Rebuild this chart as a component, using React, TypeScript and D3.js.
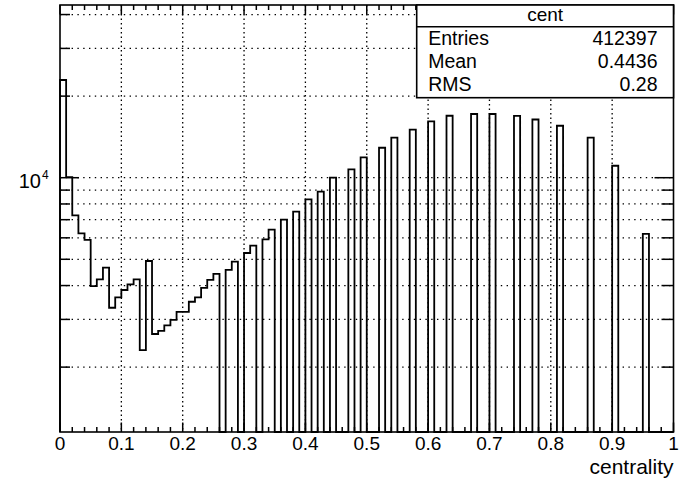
import React from "react";
import * as d3 from "d3";

// Histogram "cent": 100 bins over [0, 1], counts per bin
const binCounts = [
  22940, 10050, 7260, 6235, 5900, 3983, 4217, 4655, 3313, 3620,
  3851, 4043, 4217, 2312, 4928, 2650, 2720, 2850, 2986, 3200,
  3200, 3486, 3620, 3920, 4200, 4420, 0, 4566, 4898, 0,
  5275, 5620, 0, 5920, 6430, 0, 7000, 0, 7500, 0,
  8325, 0, 8878, 0, 10000, 0, 0, 10740, 0, 11890,
  0, 0, 12900, 0, 14050, 0, 0, 15050, 0, 0,
  16140, 0, 0, 16930, 0, 0, 0, 17180, 0, 0,
  17180, 0, 0, 0, 16900, 0, 0, 16400, 0, 0,
  0, 15550, 0, 0, 0, 0, 14050, 0, 0, 0,
  11070, 0, 0, 0, 0, 6200, 0, 0, 0, 0,
];
const xMin = 0;
const xMax = 1;

const xMajorTicks = [0, 0.1, 0.2, 0.3, 0.4, 0.5, 0.6, 0.7, 0.8, 0.9, 1];
const xTickLabels = ["0", "0.1", "0.2", "0.3", "0.4", "0.5", "0.6", "0.7", "0.8", "0.9", "1"];
const yDomain = [1152.5, 43380];
const yMinorTicks = [2000, 3000, 4000, 5000, 6000, 7000, 8000, 9000, 20000, 30000, 40000];
const yMajorTicks = [10000];

const statsTitle = "cent";
const statsNames = ["Entries", "Mean", "RMS"];
const statsValues = ["412397", "0.4436", "0.28"];
const xTitle = "centrality";

const W = 688;
const H = 490;
const FL = 60;
const FR = 673.5;
const FT = 5;
const FB = 432;
const FONT = "'Liberation Sans', Arial, Helvetica, sans-serif";

export default function App() {
  const x = d3.scaleLinear().domain([xMin, xMax]).range([FL, FR]);
  const y = d3.scaleLog().domain(yDomain).range([FB, FT]);
  const nb = binCounts.length;
  const bw = (xMax - xMin) / nb;

  // outline of the histogram; empty bins sit on the frame bottom
  const pts: [number, number][] = [[x(xMin), FB]];
  binCounts.forEach((v, i) => {
    const yy = v > 0 ? y(v) : FB;
    pts.push([x(xMin + i * bw), yy]);
    pts.push([x(xMin + (i + 1) * bw), yy]);
  });
  pts.push([x(xMax), FB]);
  const histPath = d3.line()(pts) || "";

  const xMinor = d3.range(0, 51).map((k) => xMin + k * 0.02);
  const gridX = xMajorTicks.slice(1, -1);
  const gridY = [...yMinorTicks, ...yMajorTicks];

  const box = { x: 416.7, y: FT, w: FR - 416.7, h: 92.7, title: 21.7 };

  return (
    <svg width={W} height={H} style={{ position: "absolute", left: 0, top: 0, background: "#fff" }}>
      <rect x={0} y={0} width={W} height={H} fill="#fff" />
      {/* grid */}
      <g stroke="#000" strokeWidth={1.3} fill="none">
        {gridX.map((t) => (
          <line key={"gx" + t} x1={x(t)} x2={x(t)} y1={FT} y2={FB} strokeDasharray="1.4 3.1" />
        ))}
        {gridY.map((t) => (
          <line key={"gy" + t} x1={FL} x2={FR} y1={y(t)} y2={y(t)} strokeDasharray="1.4 4.4" />
        ))}
      </g>
      {/* histogram */}
      <path d={histPath} fill="none" stroke="#000" strokeWidth={1.8} strokeLinejoin="miter" />
      {/* frame */}
      <rect x={FL} y={FT} width={FR - FL} height={FB - FT} fill="none" stroke="#000" strokeWidth={1.6} />
      {/* x ticks, bottom and top; y ticks, left and right */}
      <g stroke="#000" strokeWidth={1.5}>
        {xMinor.map((t, i) => {
          const major = i % 5 === 0;
          const len = major ? 9.5 : 5;
          return (
            <g key={"xt" + i}>
              <line x1={x(t)} x2={x(t)} y1={FB} y2={FB - len} />
              <line x1={x(t)} x2={x(t)} y1={FT} y2={FT + len} />
            </g>
          );
        })}
        {yMinorTicks.map((t) => (
          <g key={"ytm" + t}>
            <line x1={FL} x2={FL + 10} y1={y(t)} y2={y(t)} />
            <line x1={FR} x2={FR - 12} y1={y(t)} y2={y(t)} />
          </g>
        ))}
        {yMajorTicks.map((t) => (
          <g key={"ytM" + t}>
            <line x1={FL} x2={FL + 19} y1={y(t)} y2={y(t)} />
            <line x1={FR} x2={FR - 19} y1={y(t)} y2={y(t)} />
          </g>
        ))}
      </g>
      {/* x labels */}
      <g fontFamily={FONT} fontSize={19} fill="#000" textAnchor="middle">
        {xMajorTicks.map((t, i) => (
          <text key={"xl" + t} x={x(t)} y={450}>
            {xTickLabels[i]}
          </text>
        ))}
      </g>
      <text x={FR} y={474} fontFamily={FONT} fontSize={21} textAnchor="end">
        {xTitle}
      </text>
      {/* y label 10^4 */}
      {yMajorTicks.map((t) => (
        <g key={"yl" + t} fontFamily={FONT}>
          <text x={41} y={y(t) + 10} fontSize={20} textAnchor="end">
            10
          </text>
          <text x={42} y={y(t) + 1} fontSize={12} textAnchor="start">
            {Math.round(Math.log10(t))}
          </text>
        </g>
      ))}
      {/* stats box */}
      <g fontFamily={FONT}>
        <rect x={box.x} y={box.y} width={box.w} height={box.h} fill="#fff" stroke="#000" strokeWidth={1.6} />
        <line x1={box.x} x2={box.x + box.w} y1={box.y + box.title} y2={box.y + box.title} stroke="#000" strokeWidth={1.6} />
        <text x={box.x + box.w / 2} y={box.y + 16} fontSize={19} textAnchor="middle">
          {statsTitle}
        </text>
        {statsNames.map((n, i) => (
          <g key={n}>
            <text x={box.x + 11.5} y={box.y + 39.5 + i * 23.2} fontSize={19.5}>
              {n}
            </text>
            <text x={box.x + box.w - 16} y={box.y + 39.5 + i * 23.2} fontSize={19.5} textAnchor="end">
              {statsValues[i]}
            </text>
          </g>
        ))}
      </g>
    </svg>
  );
}
